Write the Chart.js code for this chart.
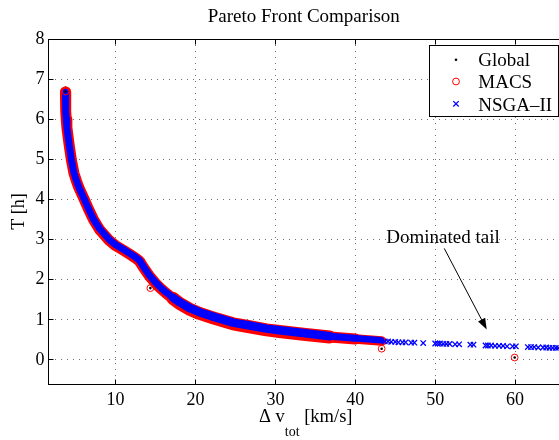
<!DOCTYPE html>
<html><head><meta charset="utf-8">
<script src="https://cdn.jsdelivr.net/npm/chart.js@4.4.1/dist/chart.umd.min.js"></script>
<style>html,body{margin:0;padding:0;background:#fff;}canvas{display:block;}</style>
</head><body>
<canvas id="c" width="559" height="440"></canvas>
<script>
// ---- data ----
const xTicks = [10, 20, 30, 40, 50, 60];
const yTicks = [0, 1, 2, 3, 4, 5, 6, 7, 8];

const nsgaFrontDv = [3.72, 3.74, 3.77, 3.82, 3.90, 4.03, 4.20, 4.46, 4.79, 5.10, 5.41, 6.12, 6.70, 7.25, 8.00, 9.25, 10.0, 11.0, 11.8, 12.5, 13.0, 13.5, 14.2, 15.0, 15.6, 16.35, 17.2, 18.0, 19.2, 20.5, 22.2, 24.7, 26.4, 28.9, 30.5, 33.5, 36.8, 40.0, 43.2];
const nsgaFrontT  = [6.67, 6.45, 6.20, 6.00, 5.80, 5.60, 5.35, 5.00, 4.66, 4.47, 4.30, 3.99, 3.73, 3.50, 3.27, 2.99, 2.87, 2.75, 2.65, 2.56, 2.48, 2.32, 2.12, 1.93, 1.81, 1.68, 1.55, 1.44, 1.30, 1.19, 1.08, 0.93, 0.87, 0.78, 0.74, 0.67, 0.59, 0.54, 0.49];

const macsFrontDv = [3.72, 3.74, 3.77, 3.82, 3.90, 4.03, 4.20, 4.46, 4.79, 5.10, 5.41, 6.12, 6.70, 7.25, 8.00, 9.25, 10.0, 11.0, 11.8, 12.5, 13.0, 13.5, 14.2, 15.0, 15.6, 16.35, 17.2, 18.0, 19.2, 20.5, 22.2, 24.7, 26.4, 28.9, 30.5, 33.5, 36.8, 40.0, 43.3];
const macsFrontT  = [6.68, 6.45, 6.20, 6.00, 5.80, 5.59, 5.34, 4.99, 4.65, 4.46, 4.29, 3.98, 3.72, 3.49, 3.25, 2.97, 2.85, 2.73, 2.63, 2.54, 2.46, 2.30, 2.10, 1.91, 1.79, 1.66, 1.53, 1.41, 1.27, 1.16, 1.05, 0.90, 0.84, 0.75, 0.71, 0.64, 0.57, 0.52, 0.47];

const nsgaTailDv = [43.7, 44.1, 44.5, 45.0, 45.4, 45.9, 46.3, 47.0, 47.4, 48.5,
                    50.0, 50.3, 50.6, 51.0, 51.4, 51.8, 52.5, 53.0, 54.4, 54.8,
                    56.3, 56.6, 57.0, 57.5, 58.0, 58.5, 59.0, 59.7, 60.1,
                    61.6, 62.0, 62.4, 62.9, 63.5, 63.9, 64.3, 64.7, 65.1, 65.4];
const nsgaTailT  = [0.46, 0.46, 0.45, 0.45, 0.44, 0.44, 0.44, 0.43, 0.43, 0.42,
                    0.41, 0.41, 0.41, 0.40, 0.40, 0.40, 0.39, 0.39, 0.38, 0.38,
                    0.36, 0.36, 0.36, 0.35, 0.35, 0.35, 0.34, 0.34, 0.34,
                    0.32, 0.32, 0.32, 0.31, 0.31, 0.31, 0.30, 0.30, 0.30, 0.30];

const macsIsoDv = [3.73, 14.35, 43.3, 59.95];
const macsIsoT  = [6.69, 1.79, 0.28, 0.06];
const globalDv  = [3.73, 14.35, 43.3, 59.95];
const globalT   = [6.69, 1.79, 0.28, 0.06];

const seriesNames = ['Global', 'MACS', 'NSGA\u2013II'];
const titleText = 'Pareto Front Comparison';
const xTitleParts = ['\u0394 v', 'tot', ' [km/s]'];
const yTitleText = 'T [h]';
const noteText = 'Dominated tail';
const noteAt = [50.98, 3.04];
const arrowFrom = [51.14, 2.78];
const arrowTo = [56.45, 0.76];

// ---- build ----
const pts = (xs, ys) => xs.map((v, i) => ({x: v, y: ys[i]}));
const SERIF = '"Liberation Serif", "Times New Roman", serif';
const RED = '#ff0000', BLUE = '#0000ff';

// band thickness varies a little along the front (thicker in the middle)
const bandWidth = (base, mid, end) => (ctx) => {
  const xv = ctx.p0.parsed.x;
  if (xv > 38) return end;
  if (xv > 17 && xv < 36) return mid;
  return base;
};

const datasets = [
  { label: seriesNames[0], data: pts(globalDv, globalT), order: 0,
    pointStyle: 'circle', pointRadius: 1.3, pointBackgroundColor: '#000', pointBorderWidth: 0, showLine: false },
  { label: seriesNames[1], data: pts(macsIsoDv, macsIsoT), order: 1,
    pointStyle: 'circle', pointRadius: 3.4, pointBackgroundColor: 'rgba(0,0,0,0)', pointBorderColor: RED, pointBorderWidth: 1, showLine: false },
  { label: seriesNames[2], data: pts(nsgaTailDv, nsgaTailT), order: 2,
    pointStyle: 'crossRot', pointRadius: 3.8, pointBorderColor: BLUE, pointBorderWidth: 1.3, showLine: false },
  { label: '_nsgaFront', data: pts(nsgaFrontDv, nsgaFrontT), order: 3, showLine: true,
    borderColor: BLUE, borderWidth: 7, borderCapStyle: 'round', borderJoinStyle: 'round', pointRadius: 0, tension: 0,
    segment: { borderWidth: bandWidth(7, 8.5, 6.5) } },
  { label: '_macsFront', data: pts(macsFrontDv, macsFrontT), order: 4, showLine: true,
    borderColor: RED, borderWidth: 11, borderCapStyle: 'round', borderJoinStyle: 'round', pointRadius: 0, tension: 0,
    segment: { borderWidth: bandWidth(11, 13, 9.5) } }
];

const al = v => Math.round(v - 0.5) + 0.5;

const decor = {
  id: 'decor',
  afterDraw(chart) {
    const {ctx, chartArea: a, scales: {x, y}} = chart;
    ctx.save();
    // frame top/right + inner ticks
    ctx.strokeStyle = '#000'; ctx.lineWidth = 1;
    ctx.beginPath();
    ctx.moveTo(al(a.left), al(a.top)); ctx.lineTo(al(a.right), al(a.top)); ctx.lineTo(al(a.right), al(a.bottom));
    xTicks.forEach(v => {
      const px = al(x.getPixelForValue(v));
      ctx.moveTo(px, al(a.bottom)); ctx.lineTo(px, al(a.bottom) - 5);
      ctx.moveTo(px, al(a.top)); ctx.lineTo(px, al(a.top) + 5);
    });
    yTicks.forEach(v => {
      const py = al(y.getPixelForValue(v));
      ctx.moveTo(al(a.left), py); ctx.lineTo(al(a.left) + 5, py);
    });
    ctx.stroke();

    // legend box
    const L = al(a.right - 130), T = al(a.top + 6), W = 129, H = 71;
    ctx.fillStyle = '#fff';
    ctx.fillRect(L, T, W, H);
    ctx.strokeRect(L, T, W, H);
    ctx.font = '19px ' + SERIF;
    ctx.textAlign = 'left'; ctx.textBaseline = 'alphabetic';
    const mx = L + 26.5;
    const rows = [14.3, 36, 58.3];
    const bases = [20.8, 42.8, 65];
    chart.data.datasets.slice(0, 3).forEach((ds, i) => {
      const cy = T + rows[i];
      ctx.fillStyle = '#000';
      ctx.fillText(ds.label, L + 48.8, T + bases[i]);
      if (i === 0) {
        ctx.beginPath(); ctx.arc(mx, cy, 1.3, 0, Math.PI * 2); ctx.fillStyle = '#000'; ctx.fill();
      } else if (i === 1) {
        ctx.beginPath(); ctx.arc(mx, cy, 3.4, 0, Math.PI * 2); ctx.strokeStyle = RED; ctx.lineWidth = 1; ctx.stroke();
      } else {
        const d = 2.7;
        ctx.beginPath(); ctx.moveTo(mx - d, cy - d); ctx.lineTo(mx + d, cy + d);
        ctx.moveTo(mx - d, cy + d); ctx.lineTo(mx + d, cy - d);
        ctx.strokeStyle = BLUE; ctx.lineWidth = 1.3; ctx.stroke();
      }
    });

    // annotation
    ctx.fillStyle = '#000'; ctx.strokeStyle = '#000'; ctx.lineWidth = 1;
    ctx.font = '19px ' + SERIF;
    ctx.textAlign = 'center'; ctx.textBaseline = 'middle';
    ctx.fillText(noteText, x.getPixelForValue(noteAt[0]), y.getPixelForValue(noteAt[1]));
    const x0 = x.getPixelForValue(arrowFrom[0]), y0 = y.getPixelForValue(arrowFrom[1]);
    const x1 = x.getPixelForValue(arrowTo[0]), y1 = y.getPixelForValue(arrowTo[1]);
    const ang = Math.atan2(y1 - y0, x1 - x0);
    const hl = 11, hw = 4;
    const bx = x1 - hl * Math.cos(ang), by = y1 - hl * Math.sin(ang);
    ctx.beginPath(); ctx.moveTo(x0, y0); ctx.lineTo(bx, by); ctx.stroke();
    ctx.beginPath();
    ctx.moveTo(x1, y1);
    ctx.lineTo(bx + hw * Math.sin(ang), by - hw * Math.cos(ang));
    ctx.lineTo(bx - hw * Math.sin(ang), by + hw * Math.cos(ang));
    ctx.closePath(); ctx.fill();

    // x axis title with subscript
    const f1 = '18.5px ' + SERIF, f2 = '14px ' + SERIF;
    ctx.textAlign = 'left'; ctx.textBaseline = 'alphabetic';
    ctx.font = f1; const w0 = ctx.measureText(xTitleParts[0]).width, w2 = ctx.measureText(xTitleParts[2]).width;
    ctx.font = f2; const w1 = ctx.measureText(xTitleParts[1]).width;
    const total = w0 + w1 + w2;
    let sx = (a.left + a.right) / 2 + 2 - total / 2;
    const base = a.bottom + 38;
    ctx.font = f1; ctx.fillText(xTitleParts[0], sx, base); sx += w0;
    ctx.font = f2; ctx.fillText(xTitleParts[1], sx, base + 14); sx += w1;
    ctx.font = f1; ctx.fillText(xTitleParts[2], sx, base);
    ctx.restore();
  }
};

Chart.defaults.color = '#000';
Chart.defaults.font.family = SERIF;

new Chart(document.getElementById('c'), {
  type: 'scatter',
  data: { datasets },
  options: {
    responsive: false,
    animation: false,
    devicePixelRatio: 1,
    layout: { autoPadding: false, padding: 0 },
    plugins: {
      legend: { display: false },
      tooltip: { enabled: false },
      title: { display: true, text: titleText, fullSize: false, color: '#000',
               font: { size: 19, weight: 'normal', family: SERIF },
               padding: { top: 6, bottom: 10.2 } }
    },
    scales: {
      x: {
        type: 'linear', min: 1.6, max: 65.5,
        afterBuildTicks: s => { s.ticks = xTicks.map(v => ({value: v})); },
        afterFit: s => { s.height = 56; s.paddingLeft = 0; s.paddingRight = 0; },
        ticks: { font: { size: 18, family: SERIF }, padding: 5, color: '#000', maxRotation: 0 },
        grid: { color: '#707070', lineWidth: 1, drawTicks: false },
        border: { display: true, color: '#000', width: 1, dash: [1, 5] }
      },
      y: {
        type: 'linear', min: -0.6, max: 8,
        afterBuildTicks: s => { s.ticks = yTicks.map(v => ({value: v})); },
        afterFit: s => { s.width = 48.5; },
        ticks: { font: { size: 18, family: SERIF }, padding: 4, color: '#000' },
        grid: { color: '#707070', lineWidth: 1, drawTicks: false },
        border: { display: true, color: '#000', width: 1, dash: [1, 5] },
        title: { display: true, text: yTitleText, color: '#000',
                 font: { size: 18, family: SERIF }, padding: { top: 8, bottom: 0 } }
      }
    }
  },
  plugins: [decor]
});
</script>
</body></html>
